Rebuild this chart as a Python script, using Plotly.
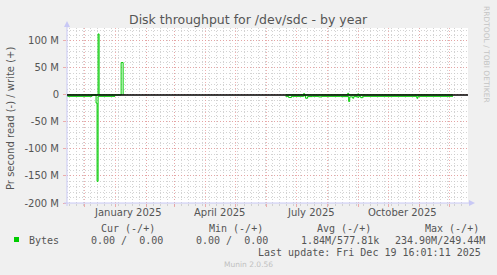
import plotly.graph_objects as go

# ---------------- data (bytes per second) ----------------
read_dates = ["2024-11-14", "2024-12-09", "2024-12-13", "2024-12-14", "2024-12-15",
              "2025-01-01", "2025-01-02",
              "2025-06-20", "2025-06-23", "2025-06-26", "2025-07-08", "2025-07-10",
              "2025-07-12", "2025-07-17", "2025-07-23", "2025-07-26", "2025-08-14",
              "2025-08-22", "2025-08-23", "2025-08-26", "2025-08-27", "2025-08-31",
              "2025-09-01", "2025-09-03", "2025-09-05", "2025-10-29", "2025-10-30",
              "2025-12-04", "2025-12-05"]
read_vals = [2.5e6, 0.0, 15e6, 160e6, 2.5e6,
             2.5e6, None,
             2.5e6, 4.5e6, 2.5e6, 1.5e6, 6e6,
             3e6, 2.5e6, 3.5e6, 2.5e6, 3e6,
             12e6, 3.5e6, 6e6, 3e6, 4.5e6,
             2.5e6, 5e6, 2.5e6, 6e6, 2.5e6,
             2.5e6, None]

write_dates = ["2024-11-14", "2024-12-15", "2024-12-16", "2025-01-06", "2025-01-07",
               "2025-01-09", "2025-01-10",
               "2025-06-20", "2025-07-08", "2025-07-09", "2025-08-21", "2025-08-22",
               "2025-08-31", "2025-09-01", "2025-12-04", "2025-12-05"]
write_vals = [0.2e6, 113e6, 0.2e6, 0.2e6, 60e6,
              0.2e6, None,
              0.2e6, 2.5e6, 0.2e6, 3e6, 0.2e6,
              2e6, 0.2e6, 0.2e6, None]

y_tickvals = [-200e6, -150e6, -100e6, -50e6, 0, 50e6, 100e6]
y_ticktext = ["-200 M", "-150 M", "-100 M", "-50 M", "0", "50 M", "100 M"]

month_lines = ["2024-12-01", "2025-01-01", "2025-02-01", "2025-03-01", "2025-04-01",
               "2025-05-01", "2025-06-01", "2025-07-01", "2025-08-01", "2025-09-01",
               "2025-10-01", "2025-11-01", "2025-12-01"]
x_label_dates = ["2025-01-14", "2025-04-15", "2025-07-15", "2025-10-15"]
x_label_text = ["January 2025", "April 2025", "July 2025", "October 2025"]

series_name = "Bytes"
stat_headers = ["Cur (-/+)", "Min (-/+)", "Avg (-/+)", "Max (-/+)"]
stat_values = ["0.00 /  0.00", "0.00 /  0.00", "1.84M/577.81k", "234.90M/249.44M"]
last_update = "Last update: Fri Dec 19 16:01:11 2025"

# ---------------- layout helpers ----------------
W, H = 497, 275
L, R, T, B = 67, 468, 28, 203


def px(x):
    return (x - L) / (R - L)


def py(y):
    return (B - y) / (B - T)


GREEN = "#00cc00"
TXT = "#555555"
SANS = "DejaVu Sans"
MONO = "DejaVu Sans Mono"

fig = go.Figure()
fig.add_trace(go.Scatter(x=read_dates, y=[(-v if v is not None else None) for v in read_vals],
                         mode="lines", line=dict(color=GREEN, width=1, shape="hv"),
                         connectgaps=False, showlegend=False, hoverinfo="skip"))
fig.add_trace(go.Scatter(x=write_dates, y=write_vals,
                         mode="lines", line=dict(color=GREEN, width=1, shape="hv"),
                         connectgaps=False, showlegend=False, hoverinfo="skip"))

MAJ = "rgba(235,150,150,0.75)"
MIN = "rgba(200,200,200,0.8)"
DASH = "1px,2px"

fig.update_layout(
    width=W, height=H,
    margin=dict(l=L, r=W - R, t=T, b=H - B),
    paper_bgcolor="#f0f0f0", plot_bgcolor="#ffffff",
    font=dict(family=SANS, size=10, color=TXT),
    xaxis=dict(type="date", range=["2024-11-14", "2025-12-19"],
               tickmode="array", tickvals=month_lines, showticklabels=False,
               showgrid=True, gridcolor=MAJ, griddash=DASH, gridwidth=1,
               ticks="outside", ticklen=3, tickcolor=MAJ,
               minor=dict(tickmode="linear", tick0="2024-11-23", dtick=7 * 86400000,
                          showgrid=True, gridcolor=MIN, griddash=DASH, gridwidth=1,
                          ticks="outside", ticklen=2, tickcolor=MIN),
               showline=False, zeroline=False, fixedrange=True),
    yaxis=dict(range=[-200e6, 124e6], tickmode="array", tickvals=y_tickvals,
               ticktext=y_ticktext, tickfont=dict(family=SANS, size=10, color=TXT),
               showgrid=True, gridcolor=MAJ, griddash=DASH, gridwidth=1,
               ticks="outside", ticklen=3, tickcolor=MAJ, ticklabelstandoff=2,
               minor=dict(tickmode="linear", tick0=0, dtick=10e6,
                          showgrid=True, gridcolor=MIN, griddash=DASH, gridwidth=1),
               showline=False, zeroline=False, fixedrange=True),
)

shapes = []
AX = "rgb(200,200,245)"
# axes lines with arrows
shapes.append(dict(type="line", xref="paper", yref="paper", x0=px(L), x1=px(L),
                   y0=py(206), y1=py(25), line=dict(color=AX, width=1)))
shapes.append(dict(type="path", xref="paper", yref="paper",
                   path=f"M {px(64)} {py(27)} L {px(70)} {py(27)} L {px(67)} {py(21)} Z",
                   fillcolor=AX, line=dict(color=AX, width=0)))
shapes.append(dict(type="line", xref="paper", yref="paper", x0=px(64), x1=px(470),
                   y0=py(B), y1=py(B), line=dict(color=AX, width=1)))
shapes.append(dict(type="path", xref="paper", yref="paper",
                   path=f"M {px(469)} {py(200)} L {px(469)} {py(206)} L {px(475)} {py(203)} Z",
                   fillcolor=AX, line=dict(color=AX, width=0)))
# zero rule
shapes.append(dict(type="line", xref="paper", yref="y", x0=0, x1=1, y0=0, y1=0,
                   line=dict(color="#000000", width=1.6), layer="above"))
# legend colour box
shapes.append(dict(type="rect", xref="paper", yref="paper", x0=px(14), x1=px(19),
                   y0=py(242), y1=py(237), fillcolor=GREEN, line=dict(width=0)))
fig.update_layout(shapes=shapes)

ann = []
# title
ann.append(dict(text="Disk throughput for /dev/sdc - by year", xref="paper", yref="paper",
                x=px(248), y=py(19), xanchor="center", yanchor="middle", showarrow=False,
                font=dict(family=SANS, size=12.5, color=TXT)))
# y-axis title
ann.append(dict(text="Pr second read (-) / write (+)", xref="paper", yref="paper",
                x=px(10), y=py(119), xanchor="center", yanchor="middle", textangle=-90,
                showarrow=False, font=dict(family=SANS, size=10, color=TXT)))
# right vertical credit
ann.append(dict(text="RRDTOOL / TOBI OETIKER", xref="paper", yref="paper",
                x=px(487), y=py(54), xanchor="center", yanchor="middle", textangle=90,
                showarrow=False, font=dict(family=SANS, size=7.5, color="#c4c4c4")))
# x labels
for d, t in zip(x_label_dates, x_label_text):
    ann.append(dict(text=t, xref="x", yref="paper", x=d, y=py(212), xanchor="center",
                    yanchor="middle", showarrow=False, font=dict(family=SANS, size=10, color=TXT)))
# legend table
hdr_x = [99, 207, 315, 423]
val_x = [89, 194, 299, 393]
for h, x in zip(stat_headers, hdr_x):
    ann.append(dict(text=h, xref="paper", yref="paper", x=px(x), y=py(228), xanchor="left",
                    yanchor="middle", showarrow=False, font=dict(family=MONO, size=10, color=TXT)))
for v, x in zip(stat_values, val_x):
    ann.append(dict(text=v, xref="paper", yref="paper", x=px(x), y=py(240), xanchor="left",
                    yanchor="middle", showarrow=False, font=dict(family=MONO, size=10, color=TXT)))
ann.append(dict(text=series_name, xref="paper", yref="paper", x=px(26.5), y=py(240),
                xanchor="left", yanchor="middle", showarrow=False,
                font=dict(family=MONO, size=10, color=TXT)))
ann.append(dict(text=last_update, xref="paper", yref="paper", x=px(483), y=py(252),
                xanchor="right", yanchor="middle", showarrow=False,
                font=dict(family=MONO, size=10, color=TXT)))
ann.append(dict(text="Munin 2.0.56", xref="paper", yref="paper", x=px(248), y=py(264),
                xanchor="center", yanchor="middle", showarrow=False,
                font=dict(family=SANS, size=7.5, color="#c0c0c0")))
fig.update_layout(annotations=ann)

fig.write_html("out.html")
